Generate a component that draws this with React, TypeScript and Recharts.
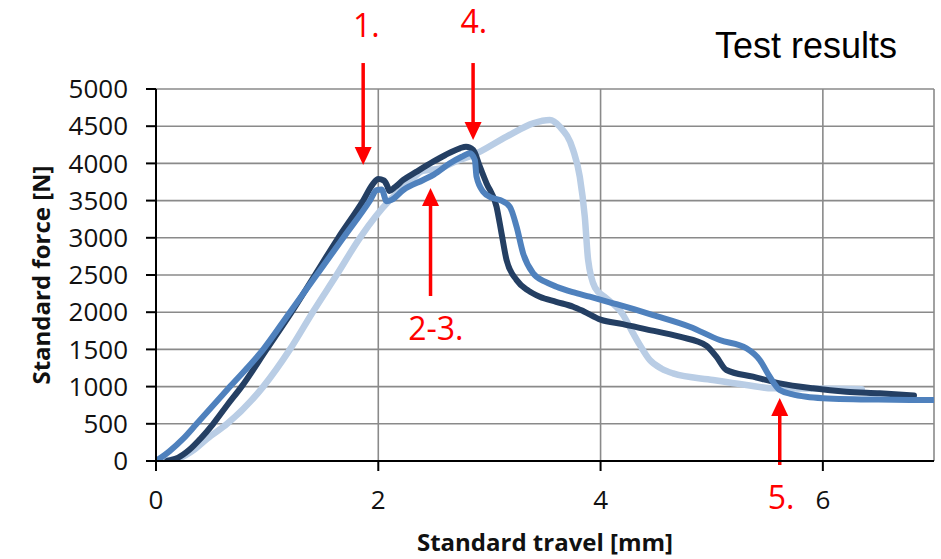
import React from 'react';
import {
  LineChart,
  Line,
  XAxis,
  YAxis,
  CartesianGrid,
  ReferenceLine,
  ReferenceDot,
} from 'recharts';

// ---- Data (travel in mm, force in N) ----
const darkTravel = [
  0.10, 0.2, 0.3, 0.4, 0.515, 0.64, 0.77, 0.995, 1.22, 1.43, 1.64, 1.864, 1.95, 2.0, 2.05, 2.08, 2.10,
  2.15, 2.225, 2.345, 2.494, 2.60, 2.734, 2.79, 2.854, 2.914, 2.974, 3.064, 3.109, 3.154, 3.244,
  3.35, 3.453, 3.6, 3.753, 3.85, 4.0, 4.2, 4.412, 4.712, 4.952, 5.042, 5.132, 5.372, 5.612, 5.911,
  6.211, 6.511, 6.82,
];
const darkForce = [
  0, 45, 150, 300, 500, 750, 1000, 1500, 2000, 2500, 3000, 3500, 3720, 3790, 3770, 3700, 3630,
  3680, 3777, 3889, 4023, 4110, 4203, 4225, 4180, 3956, 3732, 3418, 3060, 2702, 2433,
  2290, 2208, 2140, 2074, 2010, 1900, 1840, 1770, 1671, 1550, 1402, 1223, 1133, 1044, 977,
  931, 909, 880,
];

const mediumTravel = [
  0, 0.12, 0.245, 0.366, 0.666, 0.965, 1.205, 1.445, 1.685, 1.925, 1.985, 2.03, 2.075, 2.12,
  2.225, 2.404, 2.50, 2.644, 2.75, 2.824, 2.869, 2.884, 2.944, 3.02, 3.094, 3.183, 3.244, 3.303,
  3.393, 3.5, 3.603, 3.75, 3.903, 4.113, 4.3, 4.472, 4.802, 5.072, 5.312, 5.432, 5.522, 5.612,
  5.72, 5.851, 6.0, 6.5, 7.0,
];
const mediumForce = [
  0, 130, 300, 500, 1000, 1500, 2000, 2500, 3000, 3500, 3640, 3650, 3490, 3510,
  3642, 3777, 3850, 4001, 4090, 4135, 4046, 3821, 3620, 3540, 3508, 3418, 3150, 2792,
  2523, 2410, 2343, 2270, 2208, 2120, 2040, 1962, 1805, 1626, 1515, 1358, 1133, 954,
  900, 864, 845, 825, 820,
];

const lightTravel = [
  0.03, 0.2, 0.35, 0.46, 0.64, 0.965, 1.205, 1.41, 1.625, 1.835, 2.10, 2.25, 2.40, 2.55, 2.70, 2.854,
  3.154, 3.393, 3.543, 3.633, 3.753, 3.813, 3.858, 3.888, 3.95, 4.05, 4.2, 4.293, 4.353, 4.442,
  4.55, 4.652, 5.012, 5.312, 5.552, 5.9, 6.35,
];
const lightForce = [
  0, 35, 160, 300, 500, 1000, 1500, 2000, 2500, 3000, 3500, 3700, 3900, 3930, 4030, 4113,
  4359, 4539, 4583, 4493, 4180, 3821, 3284, 2702, 2330, 2190, 1970, 1716, 1560, 1358,
  1240, 1178, 1089, 1022, 977, 975, 965,
];

const xTicks = [0, 2, 4, 6];
const yTicks = [0, 500, 1000, 1500, 2000, 2500, 3000, 3500, 4000, 4500, 5000];

// ---- Annotations (data coordinates) ----
const arrowTravel = [1.864, 2.853, 2.47, 5.612];
const arrowFrom = [5349, 5349, 2218, -54];
const arrowTo = [3978, 4315, 3669, 847];
const annoText = ['1.', '4.', '2-3.', '5.'];
const annoTravel = [1.893, 2.86, 2.518, 5.625];
const annoForce = [5860, 5907, 1781, -491];

const toPoints = (xs: number[], ys: number[]) => xs.map((x, i) => ({ x, y: ys[i] }));
const darkData = toPoints(darkTravel, darkForce);
const mediumData = toPoints(mediumTravel, mediumForce);
const lightData = toPoints(lightTravel, lightForce);

const RED = '#ff0000';
const FONT = '"Open Sans", "Noto Sans", sans-serif';

const ArrowShape = (props: any) => {
  const { x1, y1, x2, y2 } = props;
  const dir = y2 > y1 ? 1 : -1;
  const head = 18;
  const half = 8.5;
  const baseY = y2 - dir * head;
  return (
    <g>
      <line x1={x1} y1={y1} x2={x2} y2={baseY + dir * 1} stroke={RED} strokeWidth={3.5} />
      <polygon points={`${x2},${y2} ${x2 - half},${baseY} ${x2 + half},${baseY}`} fill={RED} />
    </g>
  );
};

const makeLabelShape = (text: string) => (props: any) => {
  const { cx, cy } = props;
  return (
    <text x={cx} y={cy} dy="0.36em" textAnchor="middle" fill={RED} fontSize={32} fontFamily={FONT}>
      {text}
    </text>
  );
};

export default function App() {
  return (
    <div style={{ position: 'absolute', left: 0, top: 0, width: 941, height: 559, background: '#fff' }}>
      <LineChart
        width={941}
        height={559}
        margin={{ top: 89, right: 7, bottom: 0, left: 0 }}
        style={{ fontFamily: FONT }}
      >
        <CartesianGrid stroke="#8a8a8a" strokeWidth={1.6} />
        <XAxis
          type="number"
          dataKey="x"
          domain={[0, 7]}
          ticks={xTicks}
          allowDataOverflow
          height={98}
          tickSize={10}
          tickMargin={20}
          axisLine={{ stroke: '#000', strokeWidth: 2 }}
          tickLine={{ stroke: '#000', strokeWidth: 2 }}
          tick={{ fill: '#111', fontSize: 26, fontFamily: FONT }}
          label={{
            content: (p: any) => {
              const vb = p.viewBox || {};
              return (
                <text
                  x={vb.x + vb.width / 2}
                  y={vb.y + 90}
                  textAnchor="middle"
                  fontWeight="bold"
                  fontSize={24}
                  fill="#111"
                  fontFamily={FONT}
                >
                  Standard travel [mm]
                </text>
              );
            },
          }}
        />
        <YAxis
          type="number"
          domain={[0, 5000]}
          ticks={yTicks}
          allowDataOverflow
          width={156}
          tickSize={10}
          tickMargin={18}
          axisLine={{ stroke: '#000', strokeWidth: 2 }}
          tickLine={{ stroke: '#000', strokeWidth: 2 }}
          tick={{ fill: '#111', fontSize: 26, fontFamily: FONT }}
          label={{
            content: (p: any) => {
              const vb = p.viewBox || {};
              const cx = vb.x + 41;
              const cy = vb.y + vb.height / 2;
              return (
                <text
                  x={cx}
                  y={cy}
                  dy="0.36em"
                  transform={`rotate(-90 ${cx} ${cy})`}
                  textAnchor="middle"
                  fontWeight="bold"
                  fontSize={24}
                  fill="#111"
                  fontFamily={FONT}
                >
                  Standard force [N]
                </text>
              );
            },
          }}
        />
        <Line
          data={lightData}
          dataKey="y"
          type="monotone"
          stroke="#b9cde5"
          strokeWidth={6.5}
          dot={false}
          activeDot={false}
          isAnimationActive={false}
          strokeLinejoin="round"
          strokeLinecap="round"
        />
        <Line
          data={darkData}
          dataKey="y"
          type="monotone"
          stroke="#243f63"
          strokeWidth={6}
          dot={false}
          activeDot={false}
          isAnimationActive={false}
          strokeLinejoin="round"
          strokeLinecap="round"
        />
        <Line
          data={mediumData}
          dataKey="y"
          type="monotone"
          stroke="#4f81bd"
          strokeWidth={6}
          dot={false}
          activeDot={false}
          isAnimationActive={false}
          strokeLinejoin="round"
          strokeLinecap="round"
        />
        {arrowTravel.map((x, i) => (
          <ReferenceLine
            key={`arrow-${i}`}
            segment={[
              { x, y: arrowFrom[i] },
              { x, y: arrowTo[i] },
            ]}
            ifOverflow="visible"
            stroke={RED}
            shape={ArrowShape}
          />
        ))}
        {annoText.map((t, i) => (
          <ReferenceDot
            key={`lbl-${i}`}
            x={annoTravel[i]}
            y={annoForce[i]}
            r={0}
            ifOverflow="visible"
            shape={makeLabelShape(t)}
          />
        ))}
      </LineChart>
      <div
        style={{
          position: 'absolute',
          left: 715,
          top: 27.5,
          fontFamily: '"Liberation Sans", Arial, sans-serif',
          fontSize: 36,
          lineHeight: '36px',
          color: '#000',
          whiteSpace: 'nowrap',
        }}
      >
        Test results
      </div>
    </div>
  );
}
